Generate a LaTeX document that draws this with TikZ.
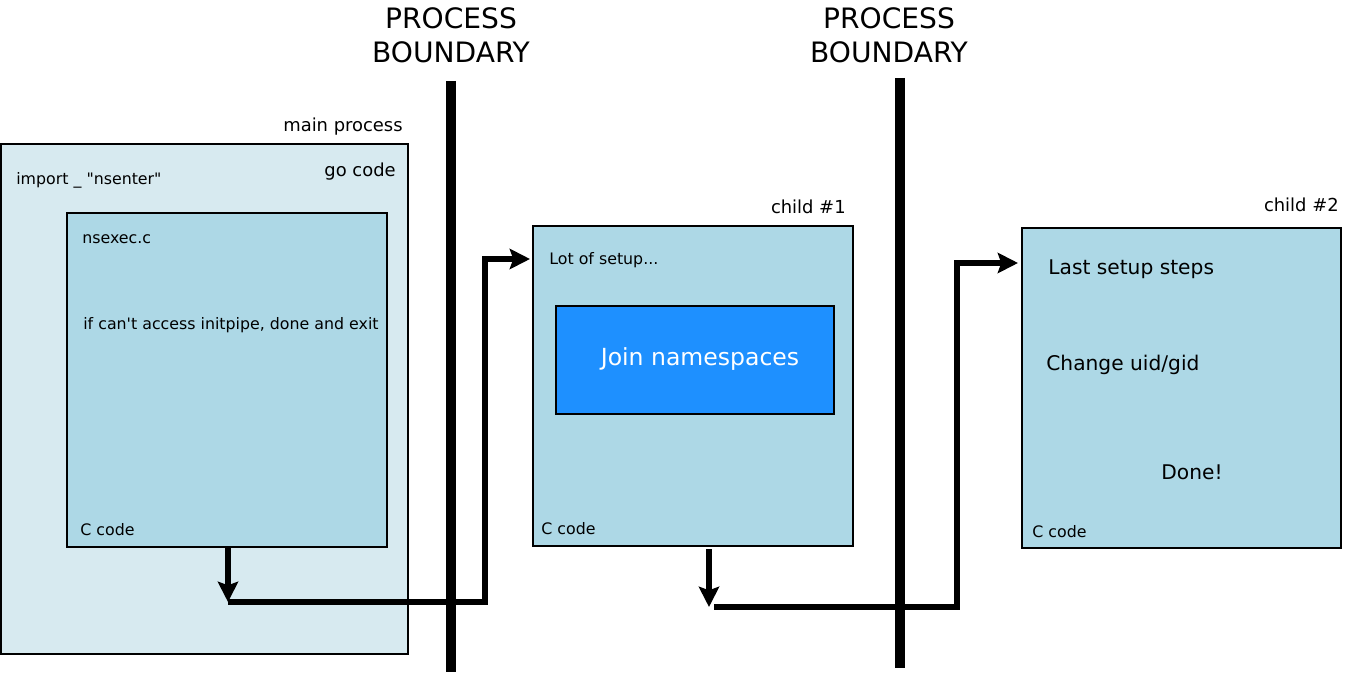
\documentclass[tikz,border=0pt]{standalone}
\usepackage{fontspec}
\setmainfont{DejaVu Sans}
\usetikzlibrary{arrows.meta,fit}

\definecolor{goblau}{HTML}{D7EAF0}
\definecolor{cblau}{HTML}{ADD8E6}
\definecolor{nsblau}{HTML}{1E90FF}

\tikzset{
    box/.style={draw, line width=1.1pt, inner sep=0pt},
    txt/.style={inner sep=0pt, font=\fontsize{9}{11}\selectfont},
    mtxt/.style={inner sep=0pt, font=\fontsize{10.2}{12}\selectfont},
    gtxt/.style={inner sep=0pt, font=\fontsize{11.5}{14}\selectfont},
    grenze/.style={line width=5.5pt},
    flow/.style={line width=3pt},
    pfeil/.style={flow, -{Stealth[length=11.5pt,width=11.5pt,inset=2pt]}},
}

\begin{document}
\begin{tikzpicture}[x=0.02cm, y=-0.02cm]
    \useasboundingbox (0,0) rectangle (1345,679);

    % Kaesten
    \node[box, fill=goblau, fit={(1,144) (408,654)}] (main) {};
    \node[box, fill=cblau, fit={(67,213) (387,547)}] (nsexec) {};
    \node[box, fill=cblau, fit={(533,226) (853,546)}] (child1) {};
    \node[box, fill=nsblau, fit={(556,306) (834,414)}] (join) {};
    \node[box, fill=cblau, fit={(1022,228) (1341,548)}] (child2) {};

    % Texte
    \node[mtxt, anchor=east] (tmain) at (403,127) {main process};
    \node[mtxt, anchor=east] (tgo) at (396,172) {go code};
    \node[txt, anchor=west] (timport) at (16,180) {import \_ \textquotedbl nsenter\textquotedbl};
    \node[txt, anchor=west] (tnsexec) at (82,239) {nsexec.c};
    \node[txt, anchor=west] (tpipe) at (83,325) {if can\textquotesingle t access initpipe, done and exit};
    \node[txt, anchor=west] (tc0) at (80,530) {C code};
    \node[mtxt, anchor=east] (tchild1) at (846,207) {child \#1};
    \node[txt, anchor=west] (tsetup) at (549,260) {Lot of setup...};
    \node[txt, anchor=west] (tc1) at (541,529) {C code};
    \node[inner sep=0pt, white, font=\fontsize{13.4}{16}\selectfont] (tjoin) at (700,359) {Join namespaces};
    \node[mtxt, anchor=east] (tchild2) at (1339,205) {child \#2};
    \node[gtxt, anchor=west] (tlast) at (1048,269) {Last setup steps};
    \node[gtxt, anchor=west] (tuid) at (1046,365) {Change uid/gid};
    \node[gtxt] (tdone) at (1192,472) {Done!};
    \node[txt, anchor=west] (tc2) at (1032,532) {C code};

    % Prozessgrenzen
    \coordinate (g1o) at (451,81);
    \coordinate (g1u) at (451,672);
    \coordinate (g2o) at (900,78);
    \coordinate (g2u) at (900,668);
    \draw[grenze] (g1o) -- (g1u);
    \draw[grenze] (g2o) -- (g2u);
    \node[inner sep=0pt, align=center, font=\fontsize{16}{19.3}\selectfont] (pb1) at (451,35) {PROCESS\\BOUNDARY};
    \node[inner sep=0pt, align=center, font=\fontsize{16}{19.3}\selectfont] (pb2) at (889,35) {PROCESS\\BOUNDARY};

    % Pfeile
    \coordinate (d1) at (228,602);
    \coordinate (k1) at (485,259);
    \coordinate (e1) at (530,259);
    \coordinate (a2) at (709,549);
    \coordinate (d2) at (709,607);
    \coordinate (s2) at (714,607);
    \coordinate (k2) at (957,263);
    \coordinate (e2) at (1018,263);
    \draw[pfeil] (nsexec.south -| d1) -- (d1);
    \draw[pfeil] (d1) -| (k1) -- (e1);
    \draw[pfeil] (a2) -- (d2);
    \draw[pfeil] (s2) -| (k2) -- (e2);
\end{tikzpicture}
\end{document}
